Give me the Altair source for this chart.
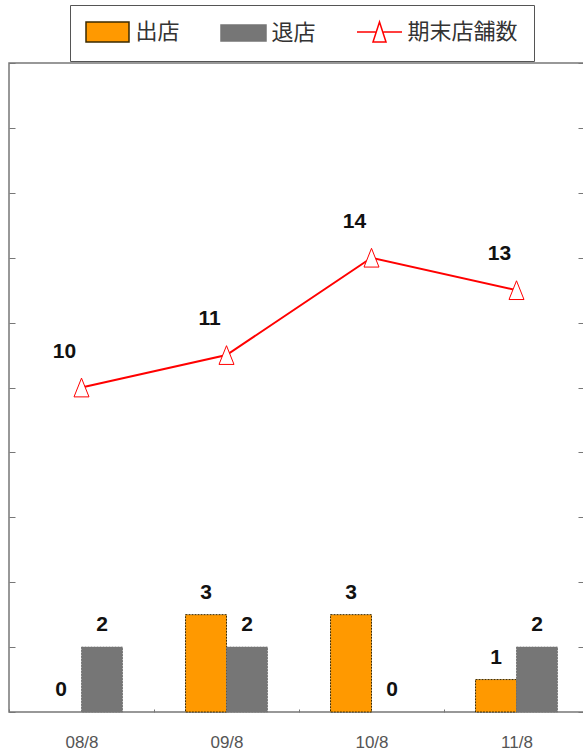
import altair as alt
import pandas as pd

# ---- data ----
periods = ["08/8", "09/8", "10/8", "11/8"]
openings = [0, 3, 3, 1]          # 出店
closings = [2, 2, 0, 2]          # 退店
store_counts = [10, 11, 14, 13]  # 期末店舗数

series_names = ["出店", "退店", "期末店舗数"]
series_fill = ["#FF9900", "#767676", "#FFFFFF"]
series_stroke = ["#3a2a00", "#767676", "#FF0000"]
# legend swatches: wide box, flatter box, line with triangle marker
series_shape = [
    "M-2.15,-1H2.15V1H-2.15Z",
    "M-2.25,-0.8H2.25V0.8H-2.25Z",
    "M-2.25,0H-0.4M0.4,0H2.25M0,-1L-0.65,1L0.65,1Z",
]

bars_df = pd.DataFrame(
    {
        "period": periods * 2,
        "series": ["出店"] * len(periods) + ["退店"] * len(periods),
        "value": openings + closings,
    }
)
line_df = pd.DataFrame({"period": periods, "stores": store_counts})
legend_df = pd.DataFrame({"series": series_names})

NUM_FONT = "Liberation Sans"
JP_FONT = "Noto Sans CJK JP"
GRID_COLOR = "#777777"
tick_values = list(range(0, 21, 2))

def y_scale():
    return alt.Scale(domain=[0, 20], nice=False)

fill_scale = alt.Scale(domain=series_names, range=series_fill)
stroke_scale = alt.Scale(domain=series_names, range=series_stroke)
shape_scale = alt.Scale(domain=series_names, range=series_shape)

x_enc = alt.X(
    "period:N",
    sort=periods,
    scale=alt.Scale(paddingInner=0, paddingOuter=0),
    axis=alt.Axis(
        title=None, domain=False, tickBand="extent", tickSize=3, offset=-3,
        tickColor=GRID_COLOR, labelAngle=0, labelFont=NUM_FONT, labelFontSize=17,
        labelColor="#555555", labelPadding=22,
    ),
)
x_plain = alt.X("period:N", sort=periods)
x_offset = alt.XOffset(
    "series:N",
    sort=["出店", "退店"],
    scale=alt.Scale(domain=["出店", "退店"], paddingInner=0, paddingOuter=0.77),
)

# legend carrier: points drawn outside the canvas, only the legend shows
legend_def = alt.Legend(
    title=None,
    orient="none",
    legendX=61,
    legendY=-58,
    direction="horizontal",
    symbolSize=400,
    symbolStrokeWidth=1.5,
    symbolOpacity=1,
    symbolOffset=10.5,
    labelOffset=17,
    labelFont=JP_FONT,
    labelFontSize=22,
    labelColor="#333333",
    columnPadding=38,
    padding=16,
    strokeColor="#555555",
    fillColor="#FFFFFF",
)
legend_layer = alt.Chart(legend_df).mark_point(filled=True, strokeWidth=1.5, opacity=1).encode(
    x=alt.value(-300),
    y=alt.value(-300),
    fill=alt.Fill("series:N", scale=fill_scale, legend=legend_def),
    stroke=alt.Stroke("series:N", scale=stroke_scale, legend=legend_def),
    shape=alt.Shape("series:N", scale=shape_scale, legend=legend_def),
)

# grouped bars: openings and closings per period (zero bars are not drawn)
bars = alt.Chart(bars_df).mark_bar(strokeWidth=1, strokeDash=[2, 1]).encode(
    x=x_enc,
    xOffset=x_offset,
    y=alt.Y("value:Q", scale=y_scale(), axis=alt.Axis(
        orient="left", values=tick_values, labels=False, domain=False, grid=False,
        offset=-6, tickSize=6, tickColor=GRID_COLOR, title=None)),
    fill=alt.Fill("series:N", scale=fill_scale),
    stroke=alt.Stroke("series:N", scale=stroke_scale),
).transform_filter("datum.value > 0")

bar_labels = alt.Chart(bars_df).mark_text(
    font=NUM_FONT, fontSize=21, fontWeight="bold", color="#111111",
    baseline="middle", dy=-22,
).encode(x=x_plain, xOffset=x_offset, y=alt.Y("value:Q", scale=y_scale()), text="value:Q")

# store count line with triangle markers
line = alt.Chart(line_df).mark_line(color="#FF0000", strokeWidth=2).encode(
    x=x_plain,
    y=alt.Y("stores:Q", scale=y_scale(), axis=alt.Axis(
        orient="right", values=tick_values, labels=False, domain=False, grid=False,
        offset=-11, tickSize=11, tickColor=GRID_COLOR, title=None)),
)
markers = alt.Chart(line_df).mark_point(
    shape="M0,-1.25L-1,1.25L1,1.25Z", size=225, filled=True,
    fill="#FFFFFF", stroke="#FF0000", strokeWidth=1, opacity=1,
).encode(x=x_plain, y=alt.Y("stores:Q", scale=y_scale()))
line_labels = alt.Chart(line_df).mark_text(
    font=NUM_FONT, fontSize=21, fontWeight="bold", color="#111111",
    baseline="middle", dx=-17, dy=-36,
).encode(x=x_plain, y=alt.Y("stores:Q", scale=y_scale()), text="stores:Q")

chart = (
    alt.layer(alt.layer(legend_layer, bars, bar_labels), alt.layer(line, markers, line_labels))
    .resolve_scale(y="independent")
    .properties(
        width=580,
        height=649,
        autosize=alt.AutoSizeParams(type="none"),
        padding={"left": 9, "top": 63, "right": -6, "bottom": 41},
        background="#FFFFFF",
    )
    .configure_view(stroke=GRID_COLOR, strokeWidth=1.5)
)

chart.save("out.html", embed_options={"renderer": "svg", "actions": False})
